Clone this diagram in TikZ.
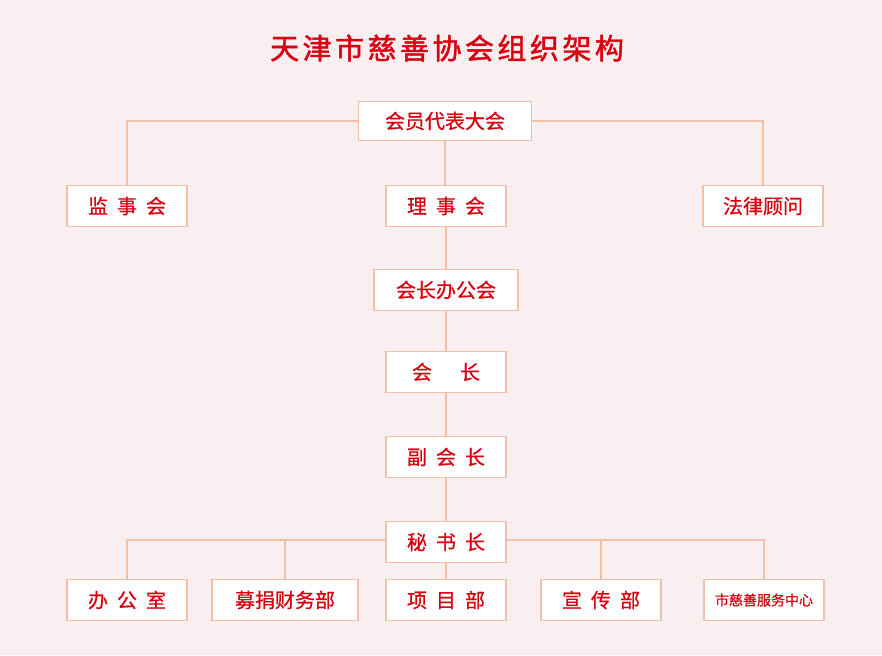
\documentclass[tikz,border=0pt]{standalone}
\usepackage{fontspec}
\setmainfont{Noto Sans CJK SC}
\newfontfamily\ttl[LetterSpace=12,FakeBold=1.5]{Noto Sans CJK SC}
\newfontfamily\bxf[FakeBold=0.6]{Noto Sans CJK SC}
\definecolor{bg}{HTML}{F9EEF0}
\definecolor{ln}{HTML}{F2C0A6}
\definecolor{tx}{HTML}{D9000F}
\newcommand{\gp}{\hspace{0.45em}}
\begin{document}
\begin{tikzpicture}[x=1pt,y=-1pt,
  bx/.style={draw=ln,line width=1.5pt,fill=white,text=tx,font=\bxf\fontsize{20}{20}\selectfont,minimum height=41pt,inner sep=0pt},
  w/.style={minimum width=120pt},
  cn/.style={draw=ln,line width=1.5pt}]
\fill[bg] (0,0) rectangle (882,655);
\node[text=tx,font=\ttl\fontsize{29}{29}\selectfont] (t) at (447,48) {天津市慈善协会组织架构};
\node[bx,minimum width=173pt,minimum height=39pt] (a) at (445,121) {会员代表大会};
\node[bx,w] (j) at (127,206) {监\gp 事\gp 会};
\node[bx,w] (l) at (446,206) {理\gp 事\gp 会};
\node[bx,w] (f) at (763,206) {法律顾问};
\node[bx,minimum width=144pt] (h) at (446,290) {会长办公会};
\node[bx,w] (hz) at (446,372) {会\hspace{1.4em}长};
\node[bx,w] (fh) at (446,457) {副\gp 会\gp 长};
\node[bx,w] (m) at (446,542) {秘\gp 书\gp 长};
\node[bx,w] (b1) at (127,600) {办\gp 公\gp 室};
\node[bx,minimum width=146pt] (b2) at (285,600) {募捐财务部};
\node[bx,w] (b3) at (446,600) {项\gp 目\gp 部};
\node[bx,w] (b4) at (601,600) {宣\gp 传\gp 部};
\node[bx,w,font=\bxf\fontsize{14}{14}\selectfont] (b5) at (764,600) {市慈善服务中心};
\draw[cn] (a.west) -| (j.north);
\draw[cn] (a.east) -| (f.north);
\draw[cn] (a.south) -- (a.south |- l.north);
\draw[cn] (l.south) -- (l.south |- h.north);
\draw[cn] (h.south) -- (h.south |- hz.north);
\draw[cn] (hz.south) -- (hz.south |- fh.north);
\draw[cn] (fh.south) -- (fh.south |- m.north);
\coordinate (y) at (0,540);
\draw[cn] (m.west |- y) -| (b1.north);
\draw[cn] (m.east |- y) -| (b5.north);
\draw[cn] (b2.north) -- (b2.north |- y);
\draw[cn] (b4.north) -- (b4.north |- y);
\draw[cn] (m.south) -- (b3.north);
\end{tikzpicture}
\end{document}
